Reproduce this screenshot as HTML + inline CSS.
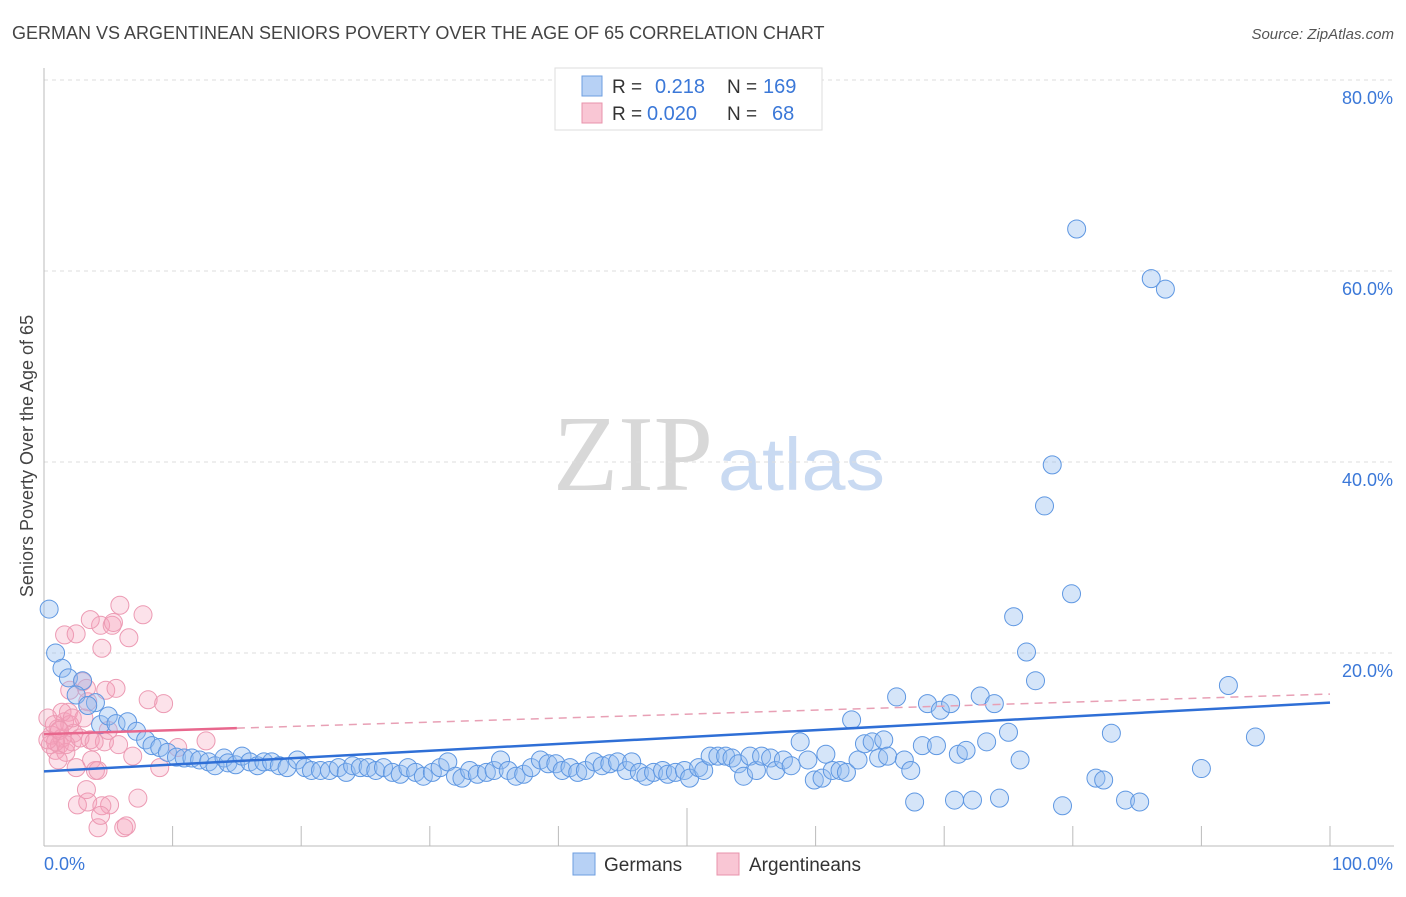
<!DOCTYPE html>
<html><head><meta charset="utf-8"><style>
body{margin:0;background:#fff;font-family:"Liberation Sans",sans-serif}
svg text{font-family:"Liberation Sans",sans-serif}
</style></head><body>
<svg id="c" width="1406" height="892" xmlns="http://www.w3.org/2000/svg">
<text x="12" y="39" font-size="18" fill="#444">GERMAN VS ARGENTINEAN SENIORS POVERTY OVER THE AGE OF 65 CORRELATION CHART</text>
<text x="1394" y="39" font-size="15" fill="#555" font-style="italic" text-anchor="end">Source: ZipAtlas.com</text>
<text transform="translate(33,456) rotate(-90)" font-size="18" fill="#444" text-anchor="middle">Seniors Poverty Over the Age of 65</text>
<g>
<text x="553" y="490" font-size="108" fill="#d8d8d8" font-family="Liberation Serif" style="font-family:'Liberation Serif',serif" textLength="160" lengthAdjust="spacingAndGlyphs">ZIP</text>
<text x="718" y="490" font-size="74" fill="#c9daf2" textLength="167" lengthAdjust="spacingAndGlyphs">atlas</text>
</g>
<g id="grid"></g><g id="axes"></g><g id="pts"></g><g id="lines"></g>
<g>
<rect x="555" y="68" width="267" height="62" fill="#fff" stroke="#ddd"/>
<rect x="582" y="76" width="20" height="20" fill="#b7d1f5" stroke="#6d9ee0"/>
<rect x="582" y="103" width="20" height="20" fill="#f9c6d4" stroke="#e893ab"/>
<text x="612" y="93" font-size="19" fill="#333">R = </text><text x="655" y="93" font-size="20" fill="#3b78d8">0.218</text>
<text x="727" y="93" font-size="19" fill="#333">N = </text><text x="763" y="93" font-size="20" fill="#3b78d8">169</text>
<text x="612" y="120" font-size="19" fill="#333">R = </text><text x="647" y="120" font-size="20" fill="#3b78d8">0.020</text>
<text x="727" y="120" font-size="19" fill="#333">N = </text><text x="772" y="120" font-size="20" fill="#3b78d8">68</text>
</g>
<g>
<rect x="573" y="853" width="22" height="22" fill="#b7d1f5" stroke="#6d9ee0"/>
<text x="604" y="871" font-size="19" fill="#333">Germans</text>
<rect x="717" y="853" width="22" height="22" fill="#f9c6d4" stroke="#e893ab"/>
<text x="749" y="871" font-size="19" fill="#333">Argentineans</text>
</g>
</svg>
<script>
const yTicks=[20,40,60,80];
const xTickLabels=["0.0%","100.0%"];
const germansX=[0.4,0.9,1.4,1.9,3.0,2.5,4.0,3.4,4.4,5.0,5.6,6.5,7.2,7.9,8.4,9.0,9.6,10.3,10.9,11.5,12.1,12.8,13.3,14.0,14.3,14.9,15.4,16.0,16.6,17.1,17.7,18.3,18.9,19.7,20.3,20.8,21.5,22.2,22.9,23.5,24.0,24.6,25.2,25.8,26.4,27.1,27.7,28.3,28.9,29.5,30.2,30.8,31.4,32.0,32.5,33.1,33.7,34.4,35.0,35.5,36.1,36.7,37.3,37.9,38.6,39.2,39.8,40.3,40.9,41.5,42.1,42.8,43.4,44.0,44.6,45.3,45.7,46.3,46.8,47.4,48.1,48.5,49.1,49.8,50.2,50.9,51.3,51.8,52.4,53.0,53.5,54.0,54.4,54.9,55.4,55.8,56.5,56.9,57.5,58.1,58.8,59.4,59.9,60.5,60.8,61.3,61.9,62.4,62.8,63.3,63.8,64.4,64.9,65.3,65.6,66.3,66.9,67.4,67.7,68.3,68.7,69.4,69.7,70.5,70.8,71.1,71.7,72.2,72.8,73.3,73.9,74.3,75.0,75.4,75.9,76.4,77.1,77.8,78.4,79.2,79.9,80.3,81.8,82.4,83.0,84.1,85.2,86.1,87.2,90.0,92.1,94.2];
const germansY=[24.6,20.0,18.4,17.4,17.1,15.6,14.8,14.5,12.5,13.4,12.6,12.8,11.8,10.9,10.3,10.1,9.6,9.1,9.0,9.0,8.8,8.6,8.2,9.0,8.5,8.3,9.2,8.6,8.2,8.6,8.6,8.2,8.0,8.8,8.0,7.7,7.7,7.7,8.0,7.5,8.2,8.0,8.0,7.7,8.0,7.5,7.3,8.0,7.5,7.1,7.5,8.0,8.6,7.1,6.9,7.7,7.3,7.5,7.7,8.8,7.7,7.1,7.3,8.0,8.8,8.4,8.4,7.7,8.0,7.5,7.7,8.6,8.2,8.4,8.6,7.7,8.6,7.5,7.1,7.5,7.7,7.3,7.5,7.7,6.9,8.0,7.7,9.2,9.2,9.2,9.0,8.4,7.1,9.2,7.7,9.2,9.0,7.7,8.8,8.2,10.7,8.8,6.7,6.9,9.4,7.7,7.7,7.5,13.0,8.8,10.5,10.7,9.0,10.9,9.2,15.4,8.8,7.7,4.4,10.3,14.7,10.3,14.0,14.7,4.6,9.4,9.8,4.6,15.5,10.7,14.7,4.8,11.7,23.8,8.8,20.1,17.1,35.4,39.7,4.0,26.2,64.4,6.9,6.7,11.6,4.6,4.4,59.2,58.1,7.9,16.6,11.2];
const argX=[0.3,0.5,0.6,0.9,1.1,1.2,1.4,1.6,1.7,1.9,2.0,2.2,2.3,2.5,2.6,3.0,3.1,3.3,3.4,3.4,3.6,3.7,4.0,4.2,4.4,4.5,4.7,4.8,5.0,5.1,5.3,5.4,5.6,5.8,5.9,6.2,6.4,6.6,6.9,7.3,7.7,8.1,9.0,9.3,10.4,12.6,1.6,2.5,3.6,2.0,1.4,1.1,0.3,0.8,2.8,2.2,3.3,4.2,4.5,4.4,3.9,0.9,1.2,1.7];
const argY=[13.2,10.4,11.4,9.8,12.1,10.4,11.1,12.8,9.6,13.8,12.5,10.7,11.6,8.0,4.1,17.0,13.2,16.3,14.9,4.4,10.9,8.8,7.7,7.7,22.9,20.5,10.7,16.1,11.9,4.1,22.9,23.2,16.3,10.4,25.0,1.7,1.9,21.6,9.2,4.8,24.0,15.1,8.0,14.7,10.1,10.8,21.9,22.0,23.5,16.1,13.8,8.8,10.9,12.5,11.1,13.2,5.7,1.7,4.0,3.0,10.7,10.7,11.9,10.4];
const germanTrend=[7.6,14.8];
const argTrend=[11.5,15.7];
const argSolidEnd=15;
const NS="http://www.w3.org/2000/svg";
const X=v=>44+v*12.86, Y=v=>844-v*9.55;
function mk(tag,attrs,parent){const e=document.createElementNS(NS,tag);for(const k in attrs)e.setAttribute(k,attrs[k]);document.getElementById(parent).appendChild(e);return e;}
yTicks.forEach(t=>{
 const g=mk('line',{x1:44,x2:1394,y1:Y(t),y2:Y(t),stroke:'#ddd','stroke-dasharray':'4,4'},'grid');
 
 
 const l=mk('text',{x:1393,y:Y(t)+24,'font-size':18,fill:'#3b78d8','text-anchor':'end'},'grid');l.textContent=t.toFixed(1)+'%';
 
 
});
const ax=mk('line',{x1:44,x2:44,y1:68,y2:846,stroke:'#bbb'},'axes');


const bx=mk('line',{x1:44,x2:1394,y1:846,y2:846,stroke:'#bbb'},'axes');


for(let i=1;i<=10;i++){const t=mk('line',{x1:X(i*10),x2:X(i*10),y1:i==5?808:826,y2:846,stroke:'#bbb'},'axes');
 
 }
const xl0=mk('text',{x:44,y:870,'font-size':18,fill:'#3b78d8'},'axes');xl0.textContent=xTickLabels[0];


const xl1=mk('text',{x:1393,y:870,'font-size':18,fill:'#3b78d8','text-anchor':'end'},'axes');xl1.textContent=xTickLabels[1];


argX.forEach((v,i)=>{const c=mk('circle',{cx:X(v),cy:Y(argY[i]),r:9,fill:'rgba(245,160,185,0.3)',stroke:'#ec9ab3','stroke-width':1},'pts');
 
 });
germansX.forEach((v,i)=>{const c=mk('circle',{cx:X(v),cy:Y(germansY[i]),r:9,fill:'rgba(150,190,240,0.4)',stroke:'#5e97e2','stroke-width':1},'pts');
 
 });
const at=v=>argTrend[0]+(argTrend[1]-argTrend[0])*v/100;
const p1=mk('line',{x1:X(0),y1:Y(at(0)),x2:X(argSolidEnd),y2:Y(at(argSolidEnd)),stroke:'#e8678d','stroke-width':2.5},'lines');


const p2=mk('line',{x1:X(argSolidEnd),y1:Y(at(argSolidEnd)),x2:X(100),y2:Y(at(100)),stroke:'#e8a0b5','stroke-width':1.5,'stroke-dasharray':'8,6'},'lines');


const b=mk('line',{x1:X(0),y1:Y(germanTrend[0]),x2:X(100),y2:Y(germanTrend[1]),stroke:'#2f6fd6','stroke-width':2.5},'lines');


</script>
</body></html>
